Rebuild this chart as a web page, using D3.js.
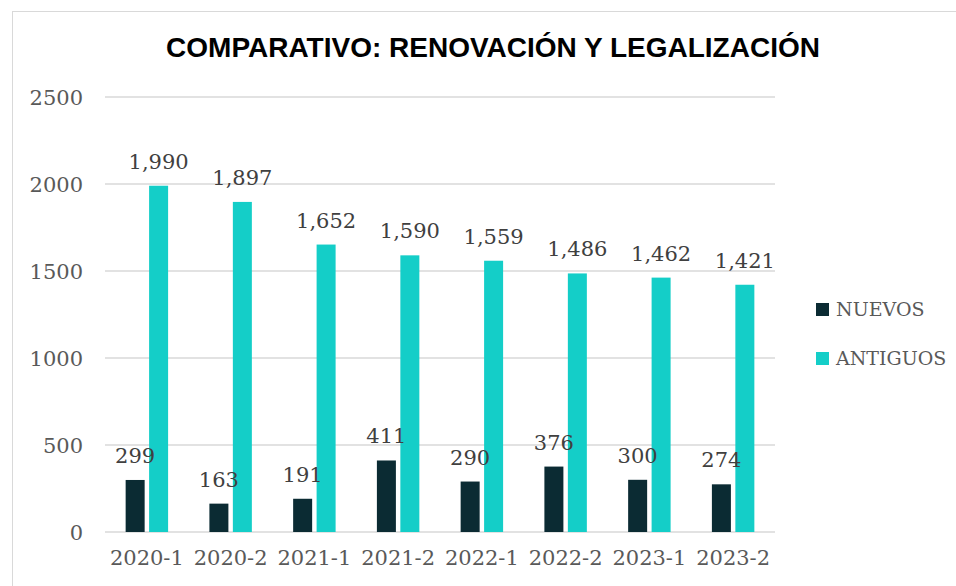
<!DOCTYPE html>
<html>
<head>
    <title>comparativo</title>
    <script src="https://d3js.org/d3.v7.min.js"></script>
    <style>
        body { margin: 0; background: #fff; }
        .tick text { font-family: 'DejaVu Serif', serif; font-size: 21px; fill: #595959; }
        .lbl { font-family: 'DejaVu Serif', serif; font-size: 21px; fill: #404040; }
        .leg { font-family: 'DejaVu Serif', serif; font-size: 19px; fill: #595959; }
    </style>
</head>
<body>
    <svg id="chart" width="956" height="586"></svg>
    <script>
        var periodos = ["2020-1", "2020-2", "2021-1", "2021-2", "2022-1", "2022-2", "2023-1", "2023-2"];
        var nuevos = [299, 163, 191, 411, 290, 376, 300, 274];
        var antiguos = [1990, 1897, 1652, 1590, 1559, 1486, 1462, 1421];
        var series = ["NUEVOS", "ANTIGUOS"];
        var colores = ["#0b2b33", "#14cec8"];
        var yTicks = [0, 500, 1000, 1500, 2000, 2500];

        var svg = d3.select("#chart");

        // chart border
        svg.append("rect")
            .attr("x", 12.5).attr("y", 11.5)
            .attr("width", 960).attr("height", 600)
            .attr("fill", "none").attr("stroke", "#d9d9d9").attr("stroke-width", 1);

        svg.append("text")
            .attr("x", 493).attr("y", 57)
            .attr("text-anchor", "middle")
            .style("font-family", "'Liberation Sans', Arial, sans-serif")
            .style("font-weight", "bold")
            .style("font-size", "28px")
            .text("COMPARATIVO: RENOVACIÓN Y LEGALIZACIÓN");

        var plotLeft = 105, plotRight = 775, plotTop = 97, plotBottom = 532;

        var x = d3.scaleBand().domain(periodos).range([plotLeft, plotRight]).paddingInner(0).paddingOuter(0);
        var xs = d3.scaleBand().domain(series).range([0, x.bandwidth()]).paddingInner(0.19).paddingOuter(0.88);
        var y = d3.scaleLinear().domain([0, 2500]).range([plotBottom, plotTop]);

        // gridlines
        svg.append("g").selectAll("line")
            .data(yTicks)
            .enter().append("line")
            .attr("x1", plotLeft).attr("x2", plotRight)
            .attr("y1", function(d) { return y(d); })
            .attr("y2", function(d) { return y(d); })
            .attr("stroke", "#d9d9d9").attr("stroke-width", 1.5);

        var yAxis = svg.append("g")
            .attr("transform", "translate(" + (plotLeft - 22) + ",0)")
            .call(d3.axisLeft(y).tickValues(yTicks).tickSize(0).tickPadding(0).tickFormat(d3.format("d")));
        yAxis.select(".domain").remove();
        yAxis.selectAll(".tick text").attr("dy", "0.35em");

        var xAxis = svg.append("g")
            .attr("transform", "translate(0," + plotBottom + ")")
            .call(d3.axisBottom(x).tickSize(0).tickPadding(18));
        xAxis.select(".domain").remove();
        xAxis.selectAll(".tick text").attr("dy", "0.71em");

        var datos = periodos.map(function(p, i) {
            return { periodo: p, valores: [nuevos[i], antiguos[i]] };
        });

        var grupos = svg.append("g").selectAll("g")
            .data(datos)
            .enter().append("g")
            .attr("transform", function(d) { return "translate(" + x(d.periodo) + ",0)"; });

        grupos.selectAll("rect")
            .data(function(d) { return d.valores.map(function(v, j) { return { s: series[j], v: v, c: colores[j] }; }); })
            .enter().append("rect")
            .attr("x", function(d) { return xs(d.s); })
            .attr("width", xs.bandwidth())
            .attr("y", function(d) { return y(d.v); })
            .attr("height", function(d) { return plotBottom - y(d.v); })
            .attr("fill", function(d) { return d.c; });

        grupos.selectAll("text")
            .data(function(d) { return d.valores.map(function(v, j) { return { s: series[j], v: v }; }); })
            .enter().append("text")
            .attr("class", "lbl")
            .attr("text-anchor", "middle")
            .attr("x", function(d) { return xs(d.s) + xs.bandwidth() / 2; })
            .attr("y", function(d) { return y(d.v) - 17; })
            .text(function(d) { return d3.format(",")(d.v); });

        // legend
        var leg = svg.append("g").selectAll("g")
            .data(series)
            .enter().append("g")
            .attr("transform", function(d, i) { return "translate(816," + (303 + i * 49) + ")"; });
        leg.append("rect").attr("width", 13).attr("height", 13)
            .attr("fill", function(d, i) { return colores[i]; });
        leg.append("text").attr("class", "leg")
            .attr("x", 20).attr("y", 13)
            .text(function(d) { return d; });
    </script>
</body>
</html>
